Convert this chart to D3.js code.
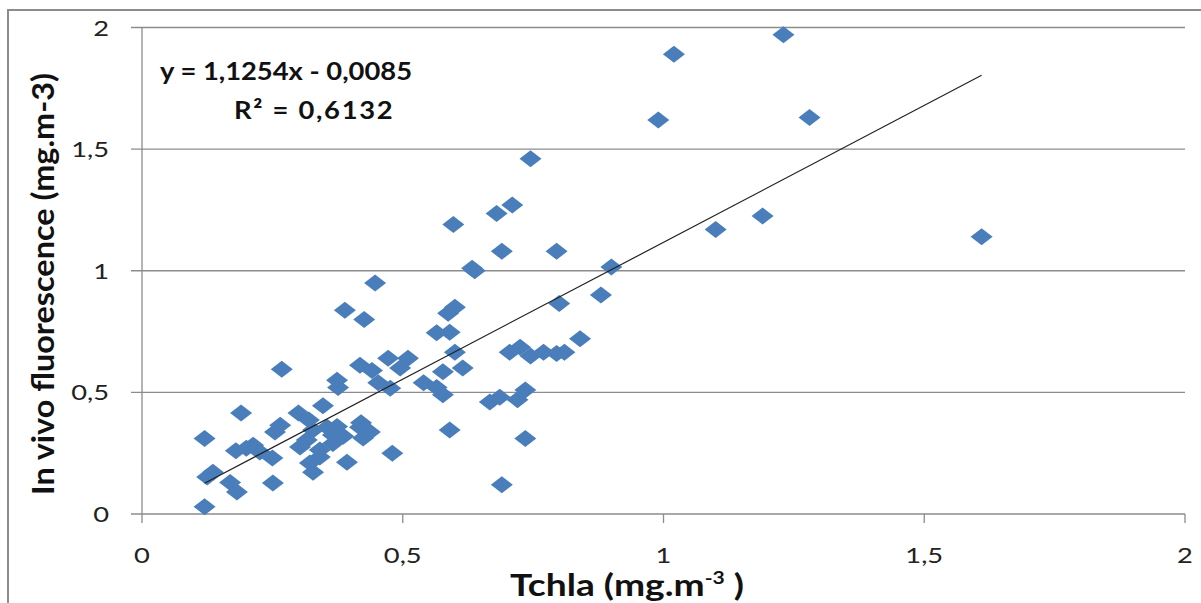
<!DOCTYPE html>
<html>
<head>
<meta charset="utf-8">
<script src="https://cdn.jsdelivr.net/npm/d3@7"></script>
<style>
body { margin: 0; background: #fff; }
</style>
</head>
<body>
<div id="viz"></div>
<script>
// Data.
var tchla = [1.23, 1.02, 0.99, 1.28, 0.745, 0.71, 0.68, 1.19, 1.10, 1.61,
	0.597, 0.69, 0.795, 0.638, 0.633, 0.90, 0.88, 0.80, 0.447, 0.389,
	0.426, 0.60, 0.587, 0.565, 0.59, 0.84, 0.705, 0.725, 0.745, 0.77,
	0.795, 0.81, 0.60, 0.615, 0.577, 0.51, 0.495, 0.472, 0.418, 0.441,
	0.268, 0.374, 0.376, 0.453, 0.476, 0.54, 0.565, 0.577, 0.667, 0.686,
	0.72, 0.735, 0.59, 0.735, 0.69, 0.48, 0.393, 0.19, 0.265, 0.255,
	0.30, 0.32, 0.347, 0.328, 0.355, 0.366, 0.316, 0.303, 0.341, 0.322,
	0.328, 0.366, 0.418, 0.437, 0.424, 0.42, 0.12, 0.18, 0.20, 0.213,
	0.226, 0.25, 0.136, 0.125, 0.169, 0.182, 0.251, 0.12, 0.374, 0.386,
	0.341];
var fluo = [1.97, 1.89, 1.62, 1.63, 1.46, 1.27, 1.235, 1.225, 1.17, 1.14,
	1.19, 1.08, 1.08, 1.00, 1.01, 1.015, 0.90, 0.865, 0.95, 0.838,
	0.80, 0.85, 0.825, 0.745, 0.747, 0.72, 0.665, 0.685, 0.65, 0.665,
	0.66, 0.665, 0.665, 0.60, 0.585, 0.64, 0.60, 0.64, 0.612, 0.59,
	0.595, 0.55, 0.52, 0.54, 0.517, 0.54, 0.52, 0.49, 0.46, 0.48,
	0.47, 0.51, 0.345, 0.31, 0.12, 0.25, 0.213, 0.415, 0.365, 0.337,
	0.415, 0.386, 0.445, 0.345, 0.357, 0.325, 0.304, 0.275, 0.263, 0.21,
	0.172, 0.29, 0.357, 0.337, 0.312, 0.375, 0.31, 0.26, 0.27, 0.283,
	0.255, 0.23, 0.172, 0.152, 0.13, 0.09, 0.127, 0.03, 0.36, 0.32,
	0.234];
var xTicks = [0, 0.5, 1, 1.5, 2];
var yTicks = [0, 0.5, 1, 1.5, 2];
var slope = 1.1254;
var intercept = -0.0085;
var equationLines = ["y = 1,1254x - 0,0085", "R\u00b2 = 0,6132"];

var font = "Lato, 'Open Sans', sans-serif";
var blue = "#4a7ebb";
var grey = "#8c8c8c";

var fr = d3.formatLocale({decimal: ",", thousands: " ", grouping: [3], currency: ["", ""]});
var fmt = function (v) { return fr.format("~g")(v); };

var x = d3.scaleLinear().domain([0, 2]).range([142, 1185]);
var y = d3.scaleLinear().domain([0, 2]).range([514, 27.5]);

var svg = d3.select("#viz")
	.append("svg")
	.attr("width", 1201)
	.attr("height", 603);

// Outer frame.
svg.append("rect")
	.attr("x", 8).attr("y", 10)
	.attr("width", 1200).attr("height", 600)
	.style("fill", "none")
	.style("stroke", grey)
	.style("stroke-width", 2);

// Horizontal grid lines and y labels.
for (var i = 0; i < yTicks.length; ++i)
{
	svg.append("line")
		.style("stroke", grey)
		.style("stroke-width", 1.3)
		.attr("x1", x(0) - 11)
		.attr("x2", x(2))
		.attr("y1", y(yTicks[i]))
		.attr("y2", y(yTicks[i]));

	svg.append("text")
		.attr("transform", "translate(109," + (y(yTicks[i]) + 8) + ") scale(1.3,1)")
		.attr("text-anchor", "end")
		.style("font-family", font)
		.style("font-size", "21px")
		.style("fill", "#222")
		.text(fmt(yTicks[i]));
}

// Y axis line.
svg.append("line")
	.style("stroke", grey)
	.style("stroke-width", 1.3)
	.attr("x1", x(0)).attr("x2", x(0))
	.attr("y1", y(2)).attr("y2", y(0));

// X ticks and labels.
for (var i = 0; i < xTicks.length; ++i)
{
	svg.append("line")
		.style("stroke", grey)
		.style("stroke-width", 1.3)
		.attr("x1", x(xTicks[i])).attr("x2", x(xTicks[i]))
		.attr("y1", y(0)).attr("y2", y(0) + 9);

	svg.append("text")
		.attr("transform", "translate(" + x(xTicks[i]) + ",563) scale(1.3,1)")
		.attr("text-anchor", "middle")
		.style("font-family", font)
		.style("font-size", "21px")
		.style("fill", "#222")
		.text(fmt(xTicks[i]));
}

// Points.
for (var i = 0, n = tchla.length; i < n; ++i)
{
	svg.append("path")
		.attr("d", "M0,-8.5L11,0L0,8.5L-11,0Z")
		.attr("transform", "translate(" + x(tchla[i]) + "," + y(fluo[i]) + ")")
		.style("fill", blue);
}

// Trend line.
var xmin = d3.min(tchla), xmax = d3.max(tchla);
svg.append("line")
	.style("stroke", "#222")
	.style("stroke-width", 1.2)
	.attr("x1", x(xmin)).attr("y1", y(slope * xmin + intercept))
	.attr("x2", x(xmax)).attr("y2", y(slope * xmax + intercept));

// Equation.
svg.append("text")
	.attr("transform", "translate(160,80) scale(1.14,1)")
	.style("font-family", font)
	.style("font-size", "24px")
	.style("font-weight", "bold")
	.style("fill", "#111")
	.text(equationLines[0]);
svg.append("text")
	.attr("transform", "translate(234,119) scale(1.14,1)")
	.style("font-family", font)
	.style("font-size", "24px")
	.style("font-weight", "bold")
	.style("letter-spacing", "1.5px")
	.style("fill", "#111")
	.text(equationLines[1]);

// Axis titles.
var xt = svg.append("text")
	.attr("transform", "translate(627,596) scale(1.24,1)")
	.attr("text-anchor", "middle")
	.style("font-family", font)
	.style("font-size", "30px")
	.style("font-weight", "bold")
	.style("fill", "#111");
xt.append("tspan").text("Tchla (mg.m");
xt.append("tspan").attr("dy", -12).style("font-size", "17px").text("-3");
xt.append("tspan").attr("dy", 12).text(" )");

svg.append("text")
	.attr("transform", "translate(54,284) rotate(-90) scale(1.08,1)")
	.attr("text-anchor", "middle")
	.style("font-family", font)
	.style("font-size", "30px")
	.style("font-weight", "bold")
	.style("fill", "#111")
	.text("In vivo fluorescence (mg.m-3)");
</script>
</body>
</html>
